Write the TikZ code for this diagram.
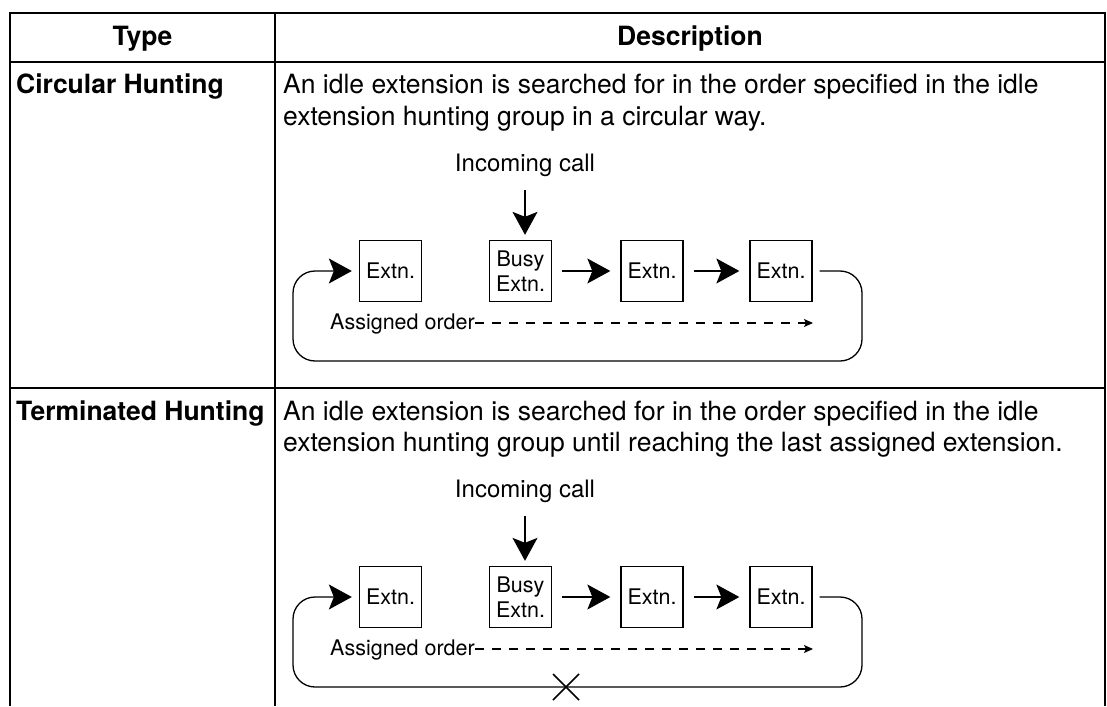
\documentclass[tikz,border=0pt]{standalone}
\usepackage{fontspec}
\setmainfont{TeX Gyre Heros}
\usetikzlibrary{arrows.meta,calc}

% One hunting diagram: #1 is the name prefix, #2 the vertical shift, #3 extra marks
\newcommand\huntdiagram[3]{%
  \begin{scope}[yshift=#2]
    \node[callfont, anchor=base] (#1in) at (525,171) {Incoming call};
    \node[extbox] (#1e1) at (390.5,271) {Extn.};
    \node[extbox] (#1e2) at (520.5,271) {Busy\\Extn.};
    \node[extbox] (#1e3) at (652,271) {Extn.};
    \node[extbox] (#1e4) at (781,271) {Extn.};
    \coordinate (#1tr) at (862,271);
    \coordinate (#1br) at (862,361);
    \coordinate (#1bl) at (293,361);
    \coordinate (#1tl) at (293,271);
    \node[small, anchor=base west] (#1ord) at (330,329.5) {Assigned order};
    \coordinate (#1ordend) at (813,323);
    % incoming call and hunting steps
    \draw[flow, shorten <=14pt, shorten >=5pt] (#1in.south) -- (#1in.south |- #1e2.north);
    \draw[flow, shorten <=10pt, shorten >=10pt] (#1e2) -- (#1e3);
    \draw[flow, shorten <=10pt, shorten >=10pt] (#1e3) -- (#1e4);
    % return path to the first extension
    \draw[loop, shorten >=7pt] ([xshift=7pt]#1e4.east) -- (#1tr) -- (#1br) -- (#1bl) -- (#1tl) -- (#1e1.west);
    % assigned order
    \draw[order] (#1ord.east |- #1ordend) -- (#1ordend);
    #3
  \end{scope}}

\begin{document}
\begin{tikzpicture}[x=1pt,y=-1pt,
  rule/.style={line width=2.6pt},
  bigtext/.style={font=\fontsize{26.5}{31}\selectfont, inner sep=0pt},
  boldtext/.style={font=\fontsize{26.5}{31}\selectfont\bfseries, inner sep=0pt},
  small/.style={font=\fontsize{21.5}{25}\selectfont, inner sep=0pt},
  callfont/.style={font=\fontsize{24}{28}\selectfont, inner sep=0pt},
  extbox/.style={draw, line width=1.3pt, minimum width=62pt, minimum height=61pt,
    inner sep=0pt, font=\fontsize{21.5}{25}\selectfont, align=center},
  flow/.style={line width=1.3pt, -{Stealth[length=23pt,width=25pt,inset=5pt]}},
  loop/.style={line width=1.3pt, rounded corners=22pt, -{Stealth[length=23pt,width=25pt,inset=5pt]}},
  order/.style={line width=1.2pt, dash pattern=on 9pt off 8pt, -{Stealth[length=9pt,width=8pt,inset=2pt]}},
  cross/.style={line width=1.5pt},
]
\useasboundingbox (0,0) rectangle (1107,706);

% table rules
\draw[rule] (10,706) -- (10,13) -- (1105,13) -- (1105,706);
\draw[rule] (275,13) -- (275,706);
\draw[rule] (10,62) -- (1105,62);
\draw[rule] (10,388) -- (1105,388);

% header
\node[boldtext, anchor=base] (htype) at (142.5,46) {Type};
\node[boldtext, anchor=base] (hdesc) at (690,46) {Description};

% circular hunting row
\node[boldtext, anchor=base west] (t1) at (16,94) {Circular Hunting};
\node[bigtext, anchor=base west] (d1a) at (283,94) {An idle extension is searched for in the order specified in the idle};
\node[bigtext, anchor=base west] (d1b) at (283,125) {extension hunting group in a circular way.};
\huntdiagram{c}{0pt}{}

% terminated hunting row
\node[boldtext, anchor=base west] (t2) at (16,420) {Terminated Hunting};
\node[bigtext, anchor=base west] (d2a) at (283,420) {An idle extension is searched for in the order specified in the idle};
\node[bigtext, anchor=base west] (d2b) at (283,451) {extension hunting group until reaching the last assigned extension.};
\huntdiagram{t}{-326pt}{%
  \coordinate (tx) at (566,361);
  \draw[cross] ([shift={(-13,-13)}]tx) -- ([shift={(13,13)}]tx);
  \draw[cross] ([shift={(-13,13)}]tx) -- ([shift={(13,-13)}]tx);}
\end{tikzpicture}
\end{document}
